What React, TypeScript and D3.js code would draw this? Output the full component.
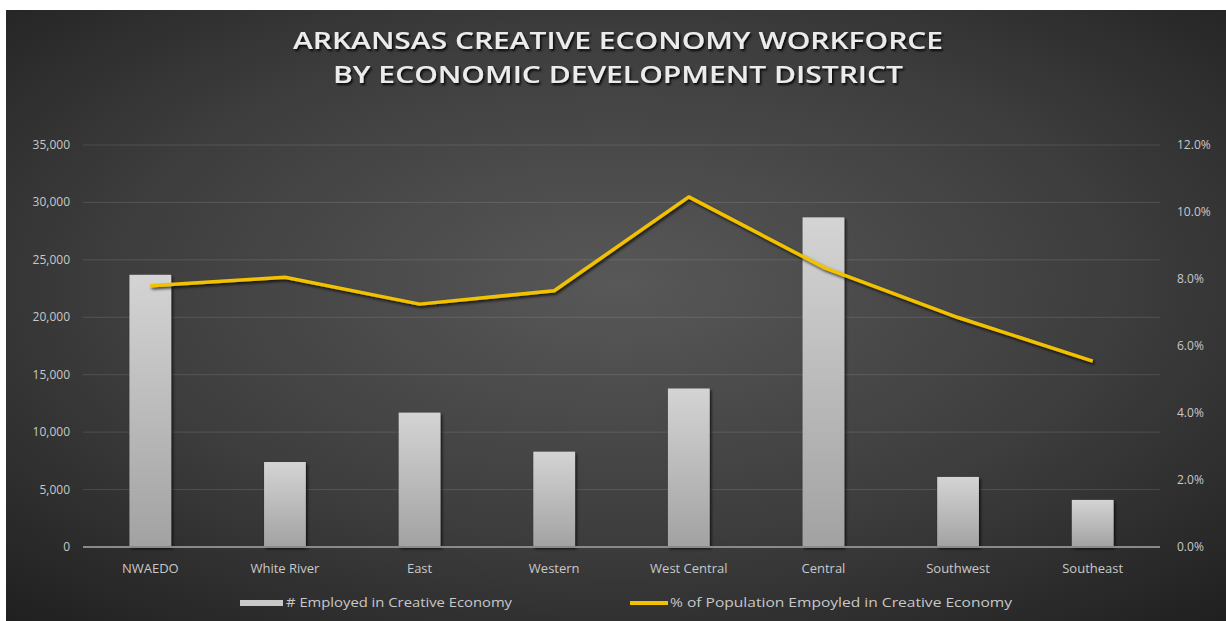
import React from "react";
import * as d3 from "d3";

const categories = ["NWAEDO", "White River", "East", "Western", "West Central", "Central", "Southwest", "Southeast"];
const employed = [23700, 7400, 11700, 8300, 13800, 28700, 6100, 4100];
const pctPopulation = [7.8, 8.05, 7.25, 7.65, 10.45, 8.35, 6.85, 5.55];
const leftTicks = [0, 5000, 10000, 15000, 20000, 25000, 30000, 35000];
const rightTicks = [0, 2, 4, 6, 8, 10, 12];
const titleLines = ["ARKANSAS  CREATIVE  ECONOMY  WORKFORCE", "BY  ECONOMIC  DEVELOPMENT  DISTRICT"];
const legendLabels = ["# Employed in Creative Economy", "% of Population Empoyled in Creative Economy"];

const W = 1226;
const H = 621;
const plot = { left: 83, right: 1160, top: 145, bottom: 547 };
const narrow = "'Liberation Sans Narrow', 'Arial Narrow', 'Open Sans', sans-serif";

export default function App() {
  const x = d3.scaleBand<string>().domain(categories).range([plot.left, plot.right]).paddingInner(0.69).paddingOuter(0.345);
  const yL = d3.scaleLinear().domain([0, 35000]).range([plot.bottom, plot.top]);
  const yR = d3.scaleLinear().domain([0, 12]).range([plot.bottom, plot.top]);
  const cx = (c: string) => (x(c) as number) + x.bandwidth() / 2;
  const line = d3.line<number>().x((_, i) => cx(categories[i])).y((d) => yR(d));
  const fmt = d3.format(",");

  return (
    <svg width={W} height={H} style={{ position: "absolute", left: 0, top: 0, display: "block" }}>
      <defs>
        <radialGradient id="bg" cx="0.5" cy="0.45" r="0.75">
          <stop offset="0" stopColor="#585858" />
          <stop offset="0.55" stopColor="#3d3d3d" />
          <stop offset="1" stopColor="#1f1f1f" />
        </radialGradient>
        <linearGradient id="bar" x1="0" y1="0" x2="0" y2="1">
          <stop offset="0" stopColor="#d4d4d4" />
          <stop offset="1" stopColor="#a2a2a2" />
        </linearGradient>
        <filter id="shadow" x="-20%" y="-20%" width="140%" height="140%">
          <feDropShadow dx="1.5" dy="2" stdDeviation="1.5" floodColor="#000" floodOpacity="0.75" />
        </filter>
        <filter id="tshadow" x="-5%" y="-30%" width="110%" height="160%">
          <feDropShadow dx="1.5" dy="2" stdDeviation="1" floodColor="#000" floodOpacity="0.9" />
        </filter>
      </defs>
      <rect x={0} y={0} width={W} height={H} fill="#ffffff" />
      <rect x={6} y={10} width={W - 6} height={H - 10} fill="url(#bg)" />

      {titleLines.map((t, i) => (
        <text
          key={t}
          x={618}
          y={49 + i * 34}
          textAnchor="middle"
          fill="#ececec"
          fontFamily={narrow}
          fontWeight={600}
          fontSize={24}
          textLength={i === 0 ? 650 : 570}
          lengthAdjust="spacingAndGlyphs"
          filter="url(#tshadow)"
        >
          {t}
        </text>
      ))}

      {leftTicks.slice(1).map((t) => (
        <line key={t} x1={plot.left} x2={plot.right} y1={yL(t)} y2={yL(t)} stroke="#ffffff" strokeOpacity={0.12} strokeWidth={1} />
      ))}

      {leftTicks.map((t) => (
        <text key={t} x={70} y={yL(t) + 4} textAnchor="end" fill="#c8c8c8" fontFamily={narrow} fontSize={12}>
          {fmt(t)}
        </text>
      ))}
      {rightTicks.map((t) => (
        <text key={t} x={1177} y={yR(t) + 4} textAnchor="start" fill="#c8c8c8" fontFamily={narrow} fontSize={12}>
          {t.toFixed(1) + "%"}
        </text>
      ))}

      {categories.map((c, i) => (
        <rect
          key={c}
          x={x(c)}
          y={yL(employed[i])}
          width={x.bandwidth()}
          height={plot.bottom - yL(employed[i])}
          fill="url(#bar)"
          filter="url(#shadow)"
        />
      ))}

      <line x1={plot.left} x2={plot.right} y1={plot.bottom} y2={plot.bottom} stroke="#8a8a8a" strokeWidth={2} />

      <path d={line(pctPopulation) || ""} fill="none" stroke="#f2c200" strokeWidth={3.5} strokeLinejoin="round" filter="url(#shadow)" />

      {categories.map((c) => (
        <text key={c} x={cx(c)} y={573} textAnchor="middle" fill="#c8c8c8" fontFamily={narrow} fontSize={13}>
          {c}
        </text>
      ))}

      <rect x={240} y={600} width={43} height={6} fill="#c8c8c8" />
      <text x={286} y={607} fill="#c8c8c8" fontFamily={narrow} fontSize={13} textLength={226} lengthAdjust="spacingAndGlyphs">
        {legendLabels[0]}
      </text>
      <line x1={630} x2={668} y1={603} y2={603} stroke="#f2c200" strokeWidth={4} />
      <text x={670} y={607} fill="#c8c8c8" fontFamily={narrow} fontSize={13} textLength={342} lengthAdjust="spacingAndGlyphs">
        {legendLabels[1]}
      </text>
    </svg>
  );
}
